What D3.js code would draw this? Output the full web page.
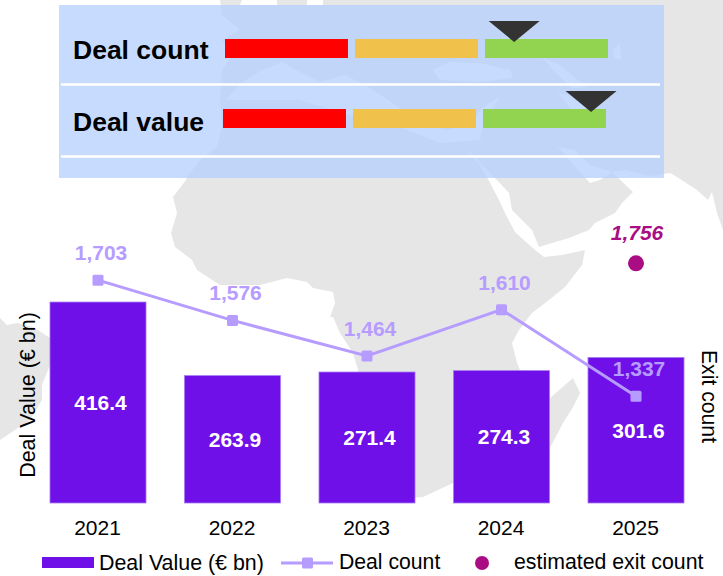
<!DOCTYPE html>
<html><head><meta charset="utf-8">
<script src="https://cdn.jsdelivr.net/npm/d3@7"></script>
<style>html,body{margin:0;padding:0;background:#fff}svg{display:block}text{font-family:"Liberation Sans",Arial,sans-serif}</style>
</head><body><svg id="c" width="723" height="576"></svg>
<script>
const years = ["2021","2022","2023","2024","2025"];
const dealValue = [416.4,263.9,271.4,274.3,301.6];
const dealCount = [1703,1576,1464,1610,1337];
const estimateYear = "2025";
const estimateExit = 1756;
const gaugeNames = ["Deal count","Deal value"];
const gaugePositions = [0.755,0.961];
const gaugeColors = ["#ff0000","#f0c24b","#92d34f"];
const legendLabels = ["Deal Value (€ bn)","Deal count","estimated exit count"];

const landShapes = [
"M220,0L242,0L240,5L277,5L277,0L307,0L307,5L323,5L323,0L723,0L723,230L717,213L712,192L708,200L697,190L677,177L670,173L650,176L625,170L612,172L633,192L622,203L615,213L595,223L589,230L569,238L552,243L539,247L532,230L512,210L509,193L495,178L487,177L499,200L505,213L515,232L535,250L544,257L562,255L585,250L582,265L565,287L549,300L532,313L519,330L512,343L517,363L520,370L550,372L550,450L530,470L453,483L423,497L400,499L370,480L358,370L353,353L340,333L333,317L330,317L335,303L333,292L313,288L307,282L287,278L260,285L220,285L197,270L192,260L175,247L171,233L177,213L173,197L186,180L187,177L200,160L217,147L222,127L220,97L222,70L232,55L222,40L240,30L222,15Z",
"M550,398L565,385L573,378L580,393L573,407L563,423L550,448Z",
"M0,318L7,325L17,323L33,327L50,338L50,365L42,385L42,400L30,420L0,440Z"
];
const seaShapes = [
"M226,100L240,84L262,70L282,62L296,70L320,82L345,75L370,88L395,105L418,120L445,130L470,125L482,108L500,96L482,130L480,140L440,143L400,127L350,115L300,100Z",
"M433,70L450,62L480,63L510,70L513,78L480,82L440,80Z",
"M543,58L560,65L575,78L587,87L572,88L555,72Z",
"M558,93L575,97L590,113L572,110Z",
"M613,50L620,43L621,60L614,58Z",
"M558,147L575,150L590,165L612,172L600,180L590,183L578,170Z",
"M467,150L480,165L487,177L495,178L482,165L470,152Z"
];

const svg = d3.select("#c");
const map = svg.append("g").attr("fill","#e6e6e6");
map.selectAll("path").data(landShapes).join("path").attr("d",d=>d);
svg.append("g").attr("fill","#fff").selectAll("path").data(seaShapes).join("path").attr("d",d=>d);

svg.append("rect").attr("x",59).attr("y",5).attr("width",605).attr("height",173)
  .attr("fill","rgb(182,208,255)").attr("fill-opacity",0.76);
svg.selectAll("line.sep").data([84.5,156.5]).join("line").attr("class","sep")
  .attr("x1",61).attr("x2",660).attr("y1",d=>d).attr("y2",d=>d).attr("stroke","#fff").attr("stroke-width",2.6);

const gaugeRows = [{x0:225,y:39,ty:59},{x0:223,y:109,ty:131}];
gaugeNames.forEach((name,i)=>{
  const r = gaugeRows[i];
  const g = svg.append("g");
  g.append("text").attr("x",73).attr("y",r.ty).attr("font-size",26.5).attr("font-weight","bold").attr("fill","#000").text(name);
  const gx = d3.scaleBand().domain(gaugeColors).range([r.x0,r.x0+383]).paddingInner(0.054);
  g.selectAll("rect").data(gaugeColors).join("rect")
    .attr("x",d=>gx(d)).attr("y",r.y).attr("width",gx.bandwidth()).attr("height",19).attr("fill",d=>d);
  const mx = d3.scaleLinear().domain([0,1]).range([r.x0,r.x0+383])(gaugePositions[i]);
  g.append("path").attr("d",d3.line()([[mx-25.5,r.y-18],[mx+25.5,r.y-18],[mx,r.y+3]])+"Z").attr("fill","#333");
});

const x = d3.scaleBand().domain(years).range([30.75,703.25]).paddingInner(0.286).paddingOuter(0.143);
const yBar = d3.scaleLinear().domain([0,450]).range([503,285.8]);
const yLine = d3.scaleLinear().domain([1000,2000]).range([503,186]);
const cx = d=>x(d)+x.bandwidth()/2;

svg.append("g").selectAll("rect").data(years).join("rect")
  .attr("x",d=>x(d)).attr("width",x.bandwidth())
  .attr("y",(d,i)=>yBar(dealValue[i])).attr("height",(d,i)=>503-yBar(dealValue[i]))
  .attr("fill","#7010e8").attr("stroke","#a67df2").attr("stroke-width",0.8);

const lineColor = "#b79cff";
svg.append("path").attr("fill","none").attr("stroke",lineColor).attr("stroke-width",3)
  .attr("d",d3.line().x(d=>cx(d)).y((d,i)=>yLine(dealCount[i]))(years));
svg.append("g").selectAll("rect").data(years).join("rect")
  .attr("x",d=>cx(d)-5.5).attr("y",(d,i)=>yLine(dealCount[i])-5.5).attr("width",11).attr("height",11).attr("rx",1.5)
  .attr("fill",lineColor);
svg.append("g").selectAll("text").data(years).join("text")
  .attr("x",d=>cx(d)+3).attr("y",(d,i)=>yLine(dealCount[i])-20)
  .attr("text-anchor","middle").attr("font-size",21).attr("font-weight","bold").attr("fill",lineColor)
  .text((d,i)=>d3.format(",")(dealCount[i]));
svg.append("g").selectAll("text").data(years).join("text")
  .attr("x",d=>cx(d)+2.5).attr("y",(d,i)=>(503+yBar(dealValue[i]))/2+7.5)
  .attr("text-anchor","middle").attr("font-size",21).attr("font-weight","bold").attr("fill","#fff")
  .text((d,i)=>dealValue[i].toFixed(1));

svg.append("circle").attr("cx",cx(estimateYear)).attr("cy",yLine(estimateExit)).attr("r",8).attr("fill","#a90c83");
svg.append("text").attr("x",cx(estimateYear)+1).attr("y",yLine(estimateExit)-23.5).attr("text-anchor","middle")
  .attr("font-size",21).attr("font-weight","bold").attr("font-style","italic").attr("fill","#a90c83")
  .text(d3.format(",")(estimateExit));

const xAxis = svg.append("g").attr("transform","translate(0,535)").call(d3.axisBottom(x).tickSize(0).tickPadding(0));
xAxis.select(".domain").remove();
xAxis.selectAll("text").attr("y",0).attr("dy",0).attr("dx",-0.5).attr("font-size",21).attr("fill","#000")
  .style("font-family",'"Liberation Sans",Arial,sans-serif');

svg.append("text").attr("transform","translate(34.5,395) rotate(-90)").attr("text-anchor","middle").attr("font-size",21.5).attr("fill","#000").text(legendLabels[0]);
svg.append("text").attr("transform","translate(702,396.5) rotate(90)").attr("text-anchor","middle").attr("font-size",21.2).attr("fill","#000").text("Exit count");

const leg = svg.append("g");
leg.append("rect").attr("x",42).attr("y",557).attr("width",52).attr("height",11).attr("fill","#7010e8");
leg.append("text").attr("x",99).attr("y",570).attr("font-size",21.4).attr("fill","#000").text(legendLabels[0]);
leg.append("line").attr("x1",281).attr("x2",333).attr("y1",563).attr("y2",563).attr("stroke",lineColor).attr("stroke-width",3);
leg.append("rect").attr("x",302).attr("y",557.5).attr("width",11).attr("height",11).attr("rx",1.5).attr("fill",lineColor);
leg.append("text").attr("x",339).attr("y",569).attr("font-size",21.2).attr("fill","#000").text(legendLabels[1]);
leg.append("circle").attr("cx",482).attr("cy",563).attr("r",7).attr("fill","#a90c83");
leg.append("text").attr("x",514).attr("y",569).attr("font-size",21.3).attr("fill","#000").text(legendLabels[2]);
</script></body></html>
